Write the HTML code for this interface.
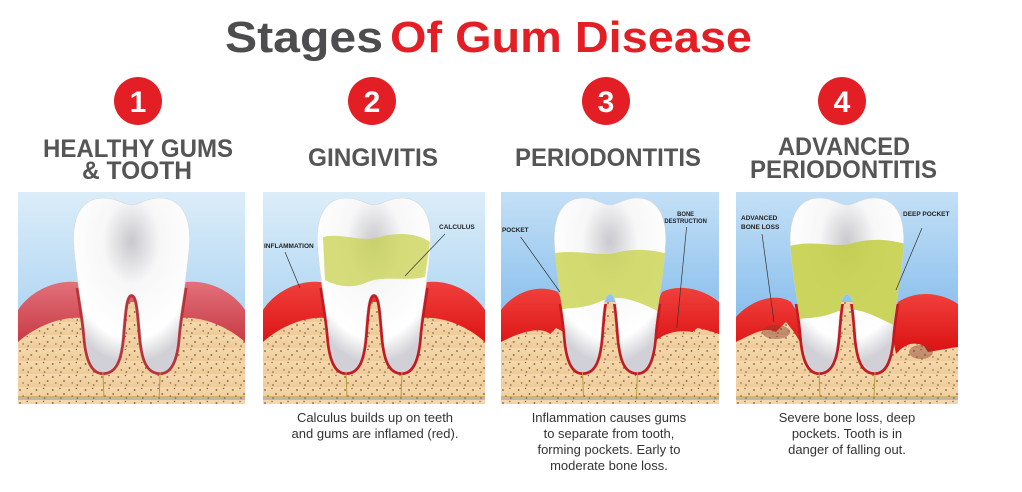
<!DOCTYPE html>
<html><head><meta charset="utf-8"><style>
html,body{margin:0;padding:0;background:#fff;}
svg{display:block;}
</style></head><body>
<svg width="1022" height="492" viewBox="0 0 1022 492" xmlns="http://www.w3.org/2000/svg" font-family="Liberation Sans, sans-serif">
<defs>
<linearGradient id="sky1" x1="0" y1="0" x2="0" y2="1"><stop offset="0" stop-color="#dcedf9"/><stop offset="1" stop-color="#8fc6ee"/></linearGradient>
<linearGradient id="sky2" x1="0" y1="0" x2="0" y2="1"><stop offset="0" stop-color="#c4e0f6"/><stop offset="1" stop-color="#5fa8e6"/></linearGradient>
<radialGradient id="toothg" cx="0.5" cy="0.25" r="0.7"><stop offset="0" stop-color="#c9c9ce"/><stop offset="0.35" stop-color="#f7f7f8"/><stop offset="0.8" stop-color="#ffffff"/><stop offset="1" stop-color="#d0d0d6"/></radialGradient>
<linearGradient id="boneg" x1="0" y1="0" x2="0" y2="1"><stop offset="0" stop-color="#f6d9ad"/><stop offset="1" stop-color="#eecb98"/></linearGradient>
<pattern id="dots" width="16" height="13" patternUnits="userSpaceOnUse">
<rect width="16" height="13" fill="url(#boneg)"/>
<circle cx="2" cy="3" r="0.9" fill="#7a5a44"/><circle cx="9" cy="1.5" r="0.7" fill="#7a5a44"/><circle cx="13" cy="7" r="0.9" fill="#7a5a44"/><circle cx="5" cy="9" r="0.7" fill="#7a5a44"/><circle cx="10" cy="11" r="0.8" fill="#7a5a44"/>
</pattern>
<linearGradient id="gum1" x1="0" y1="0" x2="0" y2="1"><stop offset="0" stop-color="#e2707a"/><stop offset="0.5" stop-color="#c83a44"/><stop offset="1" stop-color="#b8343c"/></linearGradient>
<linearGradient id="gum2" x1="0" y1="0" x2="0" y2="1"><stop offset="0" stop-color="#f0403c"/><stop offset="0.5" stop-color="#dc1414"/><stop offset="1" stop-color="#c01c22"/></linearGradient>
<path id="tooth" d="M55,60 C51,22 64,6 84,6 C96,6 104,13 111,13 C118,13 126,6 138,6 C158,6 171,22 167,60 C164,95 158,120 156,145 C154,170 148,180 139,180 C128,180 122,170 120,140 C118,115 117,102 111,102 C105,102 104,115 102,140 C100,170 94,180 83,180 C74,180 68,170 66,145 C64,120 58,95 55,60 Z"/>
<clipPath id="pc"><rect width="222" height="212"/></clipPath>
<clipPath id="tc"><use href="#tooth"/></clipPath>
<clipPath id="low1"><rect x="0" y="96" width="222" height="120"/></clipPath>
<clipPath id="low3"><rect x="0" y="112" width="222" height="110"/></clipPath>
</defs>

<text x="225" y="52" font-size="44" font-weight="bold" fill="#4d4d4f" textLength="158" lengthAdjust="spacingAndGlyphs">Stages</text>
<text x="390" y="52" font-size="44" font-weight="bold" fill="#e31e24" textLength="362" lengthAdjust="spacingAndGlyphs">Of Gum Disease</text>

<g font-weight="bold" fill="#fff" font-size="30" text-anchor="middle">
<circle cx="138" cy="101" r="24" fill="#e31e24"/><text x="138" y="112">1</text>
<circle cx="372" cy="101" r="24" fill="#e31e24"/><text x="372" y="112">2</text>
<circle cx="606" cy="101" r="24" fill="#e31e24"/><text x="606" y="112">3</text>
<circle cx="842" cy="101" r="24" fill="#e31e24"/><text x="842" y="112">4</text>
</g>
<g font-weight="bold" fill="#555" font-size="25">
<text x="43" y="157" textLength="190" lengthAdjust="spacingAndGlyphs">HEALTHY GUMS</text>
<text x="82" y="179" textLength="110" lengthAdjust="spacingAndGlyphs">&amp; TOOTH</text>
<text x="308" y="166" textLength="130" lengthAdjust="spacingAndGlyphs">GINGIVITIS</text>
<text x="515" y="166" textLength="186" lengthAdjust="spacingAndGlyphs">PERIODONTITIS</text>
<text x="778" y="155" textLength="132" lengthAdjust="spacingAndGlyphs">ADVANCED</text>
<text x="750" y="178" textLength="187" lengthAdjust="spacingAndGlyphs">PERIODONTITIS</text>
</g>

<!-- Panel 1 -->
<g transform="translate(18,192) scale(1.023,1)" clip-path="url(#pc)">
<rect width="222" height="212" fill="url(#sky1)"/>
<path d="M0,118 C15,95 45,85 66,92 L156,92 C177,85 207,95 222,118 L222,212 L0,212Z" fill="url(#gum1)"/>
<path d="M0,150 C20,132 45,124 64,126 L70,110 L150,110 L158,126 C177,124 202,132 222,150 L222,212 L0,212 Z" fill="url(#dots)"/>
<use href="#tooth" fill="none" stroke="#b8343c" stroke-width="6" clip-path="url(#low1)"/>
<use href="#tooth" fill="url(#toothg)" stroke="#d8d8dc" stroke-width="0.6"/>
<path d="M83,180 L84,205 M139,180 L138,205 M0,205 L222,205" stroke="#b89a3c" stroke-width="1" fill="none"/>
<path d="M0,207 L222,207" stroke="#7b8fc0" stroke-width="0.8"/>
</g>

<!-- Panel 2 -->
<g transform="translate(263,192)" clip-path="url(#pc)">
<rect width="222" height="212" fill="url(#sky1)"/>
<path d="M0,118 C15,95 45,85 66,92 L156,92 C177,85 207,95 222,118 L222,212 L0,212Z" fill="url(#gum2)"/>
<path d="M0,150 C20,132 45,124 64,126 L70,110 L150,110 L158,126 C177,124 202,132 222,150 L222,212 L0,212 Z" fill="url(#dots)"/>
<use href="#tooth" fill="none" stroke="#c01c22" stroke-width="6" clip-path="url(#low1)"/>
<use href="#tooth" fill="url(#toothg)" stroke="#d8d8dc" stroke-width="0.6"/>
<path d="M60,45 C80,40 100,52 120,44 C140,40 155,42 167,50 L162,85 C140,90 120,82 100,92 C80,98 66,90 62,88 Z" fill="#c8d24e" opacity="0.75" clip-path="url(#tc)"/>
<path d="M83,180 L84,205 M139,180 L138,205 M0,205 L222,205" stroke="#b89a3c" stroke-width="1" fill="none"/>
<path d="M0,207 L222,207" stroke="#7b8fc0" stroke-width="0.8"/>
<text x="1" y="56" font-size="6.5" font-weight="bold" fill="#222">INFLAMMATION</text>
<path d="M22,60 L37,96" stroke="#333" stroke-width="0.7"/>
<text x="176" y="37" font-size="6.5" font-weight="bold" fill="#222">CALCULUS</text>
<path d="M182,42 L142,84" stroke="#333" stroke-width="0.7"/>
</g>

<!-- Panel 3 -->
<g transform="translate(501,192) scale(0.982,1)" clip-path="url(#pc)">
<rect width="222" height="212" fill="url(#sky2)"/>
<path d="M0,118 C15,98 40,92 58,100 L64,112 L158,112 L164,100 C180,92 205,96 222,110 L222,212 L0,212Z" fill="url(#gum2)"/>
<path d="M0,150 C20,140 40,134 50,142 L56,136 L64,140 L70,110 L150,110 L158,148 C170,140 180,138 195,140 L200,136 C210,138 216,140 222,142 L222,212 L0,212 Z" fill="url(#dots)"/>
<use href="#tooth" fill="none" stroke="#c01c22" stroke-width="6" clip-path="url(#low3)"/>
<use href="#tooth" fill="url(#toothg)" stroke="#d8d8dc" stroke-width="0.6"/>
<path d="M50,62 C80,56 100,66 120,60 C140,56 155,58 170,62 L162,120 C140,110 120,100 100,110 C80,118 66,115 60,118 Z" fill="#c8d24e" opacity="0.8" clip-path="url(#tc)"/>
<path d="M83,180 L84,205 M139,180 L138,205 M0,205 L222,205" stroke="#b89a3c" stroke-width="1" fill="none"/>
<path d="M0,207 L222,207" stroke="#7b8fc0" stroke-width="0.8"/>
<text x="1" y="40" font-size="6.5" font-weight="bold" fill="#222">POCKET</text>
<path d="M20,45 L60,100" stroke="#333" stroke-width="0.7"/>
<text x="188" y="24" font-size="6" font-weight="bold" fill="#222" text-anchor="middle">BONE</text>
<text x="188" y="31" font-size="6" font-weight="bold" fill="#222" text-anchor="middle">DESTRUCTION</text>
<path d="M189,35 L179,136" stroke="#333" stroke-width="0.7"/>
</g>

<!-- Panel 4 -->
<g transform="translate(736,192)" clip-path="url(#pc)">
<rect width="222" height="212" fill="url(#sky2)"/>
<path d="M0,125 C15,108 40,100 55,110 L64,125 L158,125 L162,110 C180,98 205,100 222,112 L222,212 L0,212Z" fill="url(#gum2)"/>
<path d="M0,150 C20,140 30,135 40,140 L50,130 L58,140 L64,150 L70,110 L150,110 L160,162 C170,150 180,150 188,154 L192,160 C205,158 214,156 222,155 L222,212 L0,212 Z" fill="url(#dots)"/>
<ellipse cx="40" cy="140" rx="14" ry="7" fill="#8a3a2a" opacity="0.45"/>
<ellipse cx="185" cy="160" rx="12" ry="7" fill="#8a3a2a" opacity="0.45"/>
<use href="#tooth" fill="none" stroke="#c01c22" stroke-width="6" clip-path="url(#low3)"/>
<use href="#tooth" fill="url(#toothg)" stroke="#d8d8dc" stroke-width="0.6"/>
<path d="M50,55 C80,46 100,58 120,50 C140,46 155,48 170,52 L162,135 C140,125 120,112 100,120 C80,128 66,125 60,128 Z" fill="#c2cc40" opacity="0.85" clip-path="url(#tc)"/>
<path d="M83,180 L84,205 M139,180 L138,205 M0,205 L222,205" stroke="#b89a3c" stroke-width="1" fill="none"/>
<path d="M0,207 L222,207" stroke="#7b8fc0" stroke-width="0.8"/>
<text x="5" y="28" font-size="6.5" font-weight="bold" fill="#222">ADVANCED</text>
<text x="5" y="37" font-size="6.5" font-weight="bold" fill="#222">BONE LOSS</text>
<path d="M26,42 L38,130" stroke="#333" stroke-width="0.7"/>
<text x="167" y="24" font-size="6.5" font-weight="bold" fill="#222">DEEP POCKET</text>
<path d="M186,36 L160,98" stroke="#333" stroke-width="0.7"/>
</g>

<g font-size="13" fill="#333" text-anchor="middle">
<text x="375" y="422">Calculus builds up on teeth</text>
<text x="375" y="438">and gums are inflamed (red).</text>
<text x="609" y="422">Inflammation causes gums</text>
<text x="609" y="438">to separate from tooth,</text>
<text x="609" y="454">forming pockets. Early to</text>
<text x="609" y="470">moderate bone loss.</text>
<text x="847" y="422">Severe bone loss, deep</text>
<text x="847" y="438">pockets. Tooth is in</text>
<text x="847" y="454">danger of falling out.</text>
</g>
</svg>
</body></html>
